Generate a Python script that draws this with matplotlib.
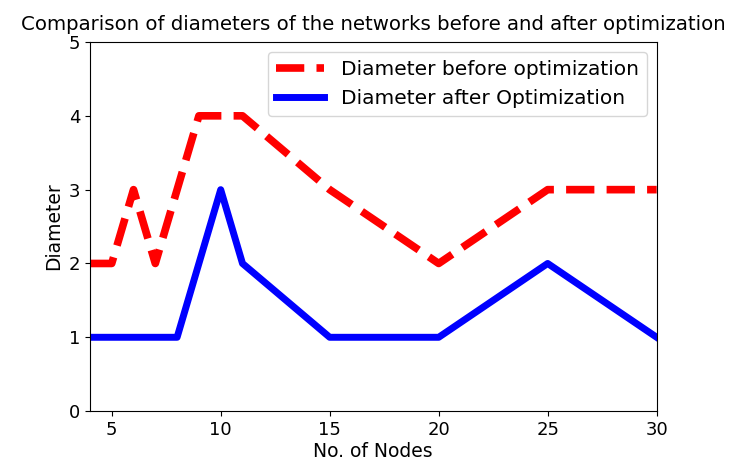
import matplotlib
matplotlib.use("Agg")
import matplotlib.pyplot as plt

x_before = [4, 5, 6, 7, 8, 9, 10, 11, 15, 20, 25, 30]
d_before = [2, 2, 3, 2, 3, 4, 4, 4, 3, 2, 3, 3]
x_after = [4, 5, 8, 10, 11, 15, 20, 25, 30]
d_after = [1, 1, 1, 3, 2, 1, 1, 2, 1]

fig = plt.figure(figsize=(7.37, 4.72), dpi=100)
ax = fig.add_axes([0.122, 0.129, 0.769, 0.782])
ax.plot(x_before, d_before, color="red", linestyle="--", linewidth=5.5, label="Diameter before optimization")
ax.plot(x_after, d_after, color="blue", linewidth=5, label="Diameter after Optimization")
ax.set_xlim(4, 30)
ax.set_ylim(0, 5)
ax.set_xticks([5, 10, 15, 20, 25, 30])
ax.set_yticks([0, 1, 2, 3, 4, 5])
ax.tick_params(labelsize=13)
ax.set_xlabel("No. of Nodes", fontsize=13.5, labelpad=2)
ax.set_ylabel("Diameter", fontsize=13.5)
ax.set_title("Comparison of diameters of the networks before and after optimization", fontsize=14.2, pad=9)
ax.legend(loc="upper right", fontsize=14.5, handlelength=2.4)
fig.savefig("out.png", dpi=100)
